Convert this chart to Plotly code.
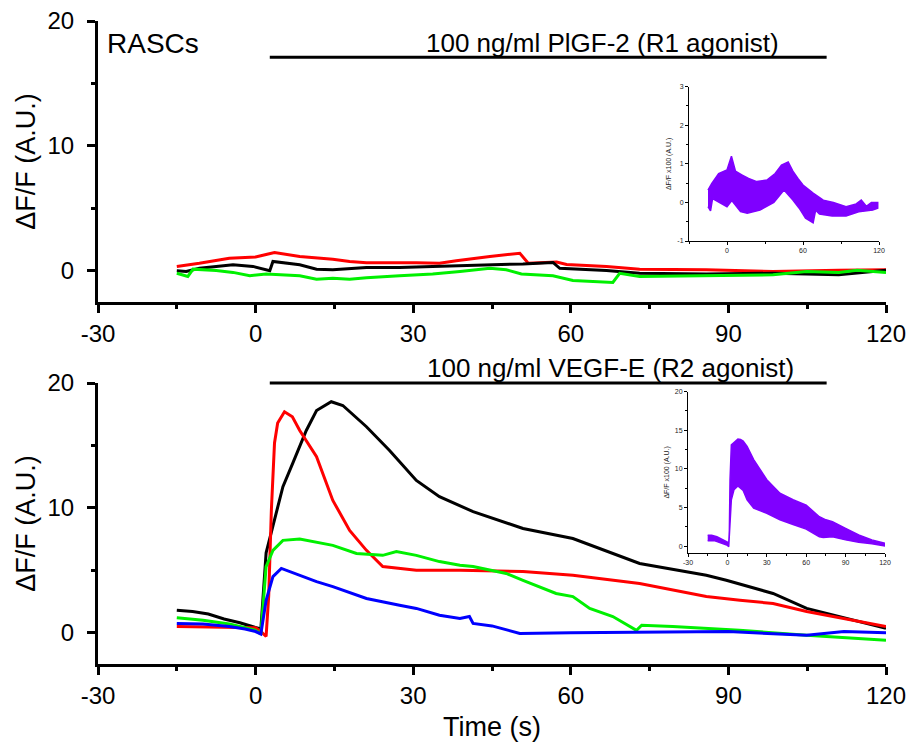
import plotly.graph_objects as go

FONT = "Liberation Sans, Arial, sans-serif"

# ---------------- Top panel (PlGF-2) ----------------
top_red_t = [-15, -10.7, -5, 0, 2.0, 3.6, 8.4, 14.7, 17.9, 21.1, 30.6, 35, 38.2, 44.6, 50.3, 51.9, 57.3, 59.2, 66.8, 73.1, 85.8, 98.5, 111, 120]
top_red_y = [0.35, 0.6, 1.0, 1.1, 1.3, 1.46, 1.15, 0.93, 0.75, 0.65, 0.65, 0.6, 0.8, 1.15, 1.4, 0.6, 0.7, 0.5, 0.35, 0.13, 0.08, -0.05, 0.05, 0.08]

top_black_t = [-15, -13.2, -10.7, -4.3, -0.5, 2.7, 3.3, 8.4, 11.6, 14.7, 21.1, 27.4, 33.7, 38.9, 44.6, 50.9, 56.6, 57.9, 66.8, 73.1, 85.8, 98.5, 111, 120]
top_black_y = [0.0, -0.05, 0.2, 0.48, 0.35, 0.0, 0.75, 0.48, 0.13, 0.08, 0.27, 0.27, 0.35, 0.4, 0.48, 0.55, 0.67, 0.2, 0.03, -0.19, -0.25, -0.2, -0.32, 0.05]

top_green_t = [-15, -12.9, -11.9, -7.5, -4.3, -1.1, 2.0, 8.4, 11.6, 14.7, 17.9, 21.1, 27.4, 33.7, 38.9, 44.6, 47.7, 50.6, 56.6, 60.4, 68, 69.3, 73.1, 85.8, 98.5, 104.9, 111, 114.5, 120]
top_green_y = [-0.2, -0.45, 0.13, 0.03, -0.13, -0.4, -0.25, -0.4, -0.67, -0.6, -0.67, -0.55, -0.4, -0.25, -0.05, 0.2, 0.08, -0.25, -0.4, -0.77, -0.93, -0.2, -0.45, -0.4, -0.32, -0.05, -0.13, 0.05, -0.13]

# top inset band (dF/F x100)
ins1_up_t = [-15, -12, -6.6, 0, 3.5, 6.7, 12, 17, 23.5, 31.5, 38, 43, 48.3, 52, 56, 60, 68, 76, 84, 94, 102, 106, 110, 114, 119]
ins1_up_y = [0.32, 0.49, 0.75, 0.84, 1.2, 0.81, 0.71, 0.62, 0.54, 0.58, 0.75, 0.97, 1.05, 0.81, 0.62, 0.45, 0.24, 0.06, 0.0, -0.11, -0.04, 0.06, -0.1, 0.0, 0.0]
ins1_low_t = [-15, -13, -11.4, 0, 3.8, 10.7, 16, 26, 37, 45, 52, 57, 62, 68, 70, 73, 83, 94, 104, 115, 119]
ins1_low_y = [-0.11, -0.22, 0.1, -0.11, 0.05, -0.24, -0.28, -0.2, 0.0, 0.32, 0.06, -0.15, -0.41, -0.53, -0.2, -0.3, -0.35, -0.35, -0.24, -0.2, -0.15]

# ---------------- Bottom panel (VEGF-E) ----------------
bot_black_t = [-15, -12, -9, -6, -3, 0, 1, 2.0, 3.5, 5.2, 7.1, 9.65, 11.6, 14.4, 16.6, 21.1, 25.5, 30.6, 35, 41.4, 50.9, 60.4, 73.1, 85.8, 89.6, 98.5, 104.9, 111.2, 120]
bot_black_y = [1.8, 1.7, 1.5, 1.1, 0.8, 0.4, 0.3, 6.4, 9.0, 11.7, 13.6, 16.2, 17.8, 18.5, 18.2, 16.5, 14.6, 12.2, 10.9, 9.7, 8.35, 7.55, 5.55, 4.6, 4.2, 3.15, 1.95, 1.3, 0.35]

bot_red_t = [-15, -10, -5, 0, 1, 2.0, 2.5, 3.0, 3.6, 4.2, 5.5, 7.0, 8.4, 11.6, 14.7, 17.9, 21.1, 24.2, 30.6, 38.9, 50.9, 60.4, 73.1, 85.8, 92.2, 98.5, 104.9, 120]
bot_red_y = [0.5, 0.45, 0.45, 0.4, 0.1, -0.3, 3.0, 9.8, 15.2, 16.8, 17.7, 17.3, 16.2, 14.1, 10.6, 8.2, 6.6, 5.3, 5.0, 5.0, 4.9, 4.6, 3.95, 2.9, 2.6, 2.35, 1.7, 0.5]

bot_green_t = [-15, -10, -5, 0, 1, 2.0, 3.3, 5.2, 8.4, 14.7, 19.2, 24.2, 26.8, 30.6, 35, 38.9, 41.4, 47.7, 50.9, 57.2, 60.4, 63.6, 68, 72.5, 73.5, 79.4, 92.1, 104.9, 120]
bot_green_y = [1.2, 1.0, 0.7, 0.2, -0.1, 5.3, 6.6, 7.4, 7.5, 7.0, 6.35, 6.2, 6.5, 6.2, 5.7, 5.4, 5.3, 4.75, 4.2, 3.15, 2.9, 1.95, 1.3, 0.2, 0.6, 0.5, 0.2, -0.2, -0.6]

bot_blue_t = [-15, -10, -5, -2, 0, 1, 2.0, 3.3, 4.9, 8.4, 11.6, 14.7, 21.1, 27.4, 30.6, 35, 38.9, 40.7, 41.4, 45, 50.3, 60, 73.1, 90, 104.9, 112, 120]
bot_blue_y = [0.75, 0.7, 0.5, 0.3, 0.1, -0.1, 2.6, 4.5, 5.15, 4.6, 4.1, 3.7, 2.75, 2.2, 1.95, 1.4, 1.15, 1.3, 0.75, 0.55, -0.05, 0.0, 0.05, 0.1, -0.2, 0.1, 0.0]

# bottom inset band (dF/F x100)
ins2_up_t = [-15, -12, -8, -4, 0, 1, 1.5, 2, 3, 5, 8, 10, 12, 15, 20, 25, 30, 40, 50, 60, 65, 70, 75, 80, 90, 100, 110, 120]
ins2_up_y = [1.4, 1.4, 1.2, 0.9, 0.5, 0.3, 2.0, 8.6, 13.1, 13.4, 13.85, 13.8, 13.6, 12.9, 11.2, 9.9, 8.6, 6.85, 6.0, 5.3, 4.6, 3.8, 3.4, 3.15, 2.3, 1.43, 0.8, 0.35]
ins2_low_t = [-15, -10, -5, 0, 1, 2, 3, 5, 8, 12, 15, 20, 25, 30, 40, 50, 60, 70, 73, 80, 90, 100, 110, 120]
ins2_low_y = [0.7, 0.7, 0.4, 0.1, -0.1, 2.5, 6.0, 7.3, 7.8, 7.2, 6.0, 4.9, 4.6, 4.25, 3.4, 2.8, 2.2, 1.2, 1.1, 1.2, 0.8, 0.5, 0.3, 0.0]

# tick labels (hyphen-minus as in the original)
main_xticks = [-30, 0, 30, 60, 90, 120]
main_xlabels = ["-30", "0", "30", "60", "90", "120"]
main_yticks = [0, 10, 20]
ins1_xticks = [0, 60, 120]
ins1_yticks = [-1, 0, 1, 2, 3]
ins1_ylabels = ["-1", "0", "1", "2", "3"]
ins2_xticks = [-30, 0, 30, 60, 90, 120]
ins2_xlabels = ["-30", "0", "30", "60", "90", "120"]
ins2_yticks = [0, 5, 10, 15, 20]

label_top = "100 ng/ml PlGF-2 (R1 agonist)"
label_bot = "100 ng/ml VEGF-E (R2 agonist)"
cell_label = "RASCs"
y_title = "ΔF/F (A.U.)"
x_title = "Time (s)"
inset_y_title = "ΔF/F x100 (A.U.)"

RED, BLACK, GREEN, BLUE, PURPLE = "#ff0000", "#000000", "#00f000", "#0000ff", "#7f00ff"

fig = go.Figure()

def line(t, y, color, xa, ya):
    fig.add_trace(go.Scatter(x=t, y=y, mode="lines", line=dict(color=color, width=3),
                             xaxis=xa, yaxis=ya, showlegend=False, hoverinfo="skip"))

def band(ut, uy, lt, ly, xa, ya):
    fig.add_trace(go.Scatter(x=ut + lt[::-1], y=uy + ly[::-1], mode="lines", fill="toself",
                             fillcolor=PURPLE, line=dict(color=PURPLE, width=1.5),
                             xaxis=xa, yaxis=ya, showlegend=False, hoverinfo="skip"))

line(top_red_t, top_red_y, RED, "x", "y")
line(top_black_t, top_black_y, BLACK, "x", "y")
line(top_green_t, top_green_y, GREEN, "x", "y")
band(ins1_up_t, ins1_up_y, ins1_low_t, ins1_low_y, "x2", "y2")

line(bot_black_t, bot_black_y, BLACK, "x3", "y3")
line(bot_red_t, bot_red_y, RED, "x3", "y3")
line(bot_green_t, bot_green_y, GREEN, "x3", "y3")
line(bot_blue_t, bot_blue_y, BLUE, "x3", "y3")
band(ins2_up_t, ins2_up_y, ins2_low_t, ins2_low_y, "x4", "y4")

main_ax = dict(showline=True, linewidth=3, linecolor="black", ticks="outside", ticklen=8,
               tickwidth=3, tickcolor="black", showgrid=False, zeroline=False, automargin=False,
               tickfont=dict(family=FONT, size=24, color="black"))
inset_ax = dict(showline=True, linewidth=1, linecolor="black", ticks="outside", ticklen=3,
                tickwidth=1, tickcolor="black", showgrid=False, zeroline=False, automargin=False,
                tickfont=dict(family=FONT, size=7, color="#222"))
main_minor = dict(ticklen=4, tickwidth=3, tickcolor="black", ticks="outside")
inset_minor = dict(ticklen=2, tickwidth=1, tickcolor="black", ticks="outside")

W, H = 914, 745
def xd(a, b): return [a / W, b / W]
def yd(a, b): return [1 - b / H, 1 - a / H]

tfont = dict(family=FONT, size=27, color="black")
afont = dict(family=FONT, size=26, color="black")
ifont = dict(family=FONT, size=7, color="#222")

fig.update_layout(
    width=W, height=H, margin=dict(l=0, r=0, t=0, b=0),
    paper_bgcolor="white", plot_bgcolor="rgba(0,0,0,0)",
    xaxis=dict(main_ax, domain=xd(98, 886), range=[-30, 120], anchor="y",
               tickvals=main_xticks, ticktext=main_xlabels,
               minor=dict(main_minor, dtick=15, tick0=0)),
    yaxis=dict(main_ax, domain=yd(21, 302), range=[-2.5, 20], anchor="x", tickvals=main_yticks,
               minor=dict(main_minor, tickvals=[5, 15]), ticklabelstandoff=8,
               title=dict(text=y_title, font=tfont, standoff=5)),
    xaxis2=dict(inset_ax, domain=xd(689, 879), range=[-30, 120], anchor="y2", tickvals=ins1_xticks,
                minor=dict(inset_minor, tickvals=[-30, 30, 90])),
    yaxis2=dict(inset_ax, domain=yd(86.7, 241), range=[-1, 3], anchor="x2",
                tickvals=ins1_yticks, ticktext=ins1_ylabels,
                minor=dict(inset_minor, dtick=0.5, tick0=0),
                title=dict(text=inset_y_title, font=ifont, standoff=4)),
    xaxis3=dict(main_ax, domain=xd(98, 886), range=[-30, 120], anchor="y3",
                tickvals=main_xticks, ticktext=main_xlabels,
                minor=dict(main_minor, dtick=15, tick0=0),
                title=dict(text=x_title, font=tfont, standoff=10)),
    yaxis3=dict(main_ax, domain=yd(383, 664), range=[-2.5, 20], anchor="x3", tickvals=main_yticks,
                minor=dict(main_minor, tickvals=[5, 15]), ticklabelstandoff=8,
                title=dict(text=y_title, font=tfont, standoff=5)),
    xaxis4=dict(inset_ax, domain=xd(688, 885), range=[-30, 120], anchor="y4",
                tickvals=ins2_xticks, ticktext=ins2_xlabels,
                minor=dict(inset_minor, dtick=15, tick0=0)),
    yaxis4=dict(inset_ax, domain=yd(391.7, 553), range=[-0.9, 20], anchor="x4", tickvals=ins2_yticks,
                minor=dict(inset_minor, dtick=2.5, tick0=0),
                title=dict(text=inset_y_title, font=ifont, standoff=4)),
)

fig.add_shape(type="line", xref="x", yref="y", x0=2.7, x1=108.7, y0=17.1, y1=17.1,
              line=dict(color="black", width=3))
fig.add_shape(type="line", xref="x3", yref="y3 domain", x0=2.7, x1=108.7, y0=1.0, y1=1.0,
              line=dict(color="black", width=3))

fig.add_annotation(x=-28.6, y=18.2, xref="x", yref="y", text=cell_label, showarrow=False,
                   xanchor="left", yanchor="middle", font=dict(family=FONT, size=28, color="black"))
fig.add_annotation(x=66.1, y=18.2, xref="x", yref="y", text=label_top, showarrow=False,
                   xanchor="center", yanchor="middle", font=afont)
fig.add_annotation(x=67.6, y=1.053, xref="x3", yref="y3 domain", text=label_bot, showarrow=False,
                   xanchor="center", yanchor="middle", font=afont)

fig.write_html("out.html")
